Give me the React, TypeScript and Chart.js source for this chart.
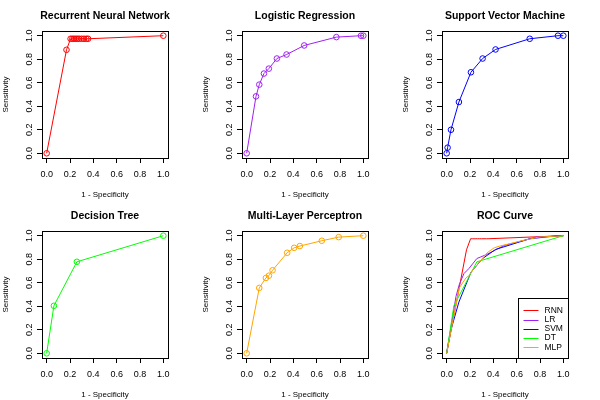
import React, { useEffect, useRef } from "react";
import { Chart, registerables } from "chart.js";

Chart.register(...registerables);

const FONT = "'Liberation Sans', Arial, Helvetica, sans-serif";

// Axis ticks (both axes)
const AXIS_TICKS = [0, 0.2, 0.4, 0.6, 0.8, 1.0];
const AXIS_MIN = -0.04;
const AXIS_MAX = 1.04;
const X_TITLE = "1 - Specificity";
const Y_TITLE = "Sensitivity";

// Recurrent Neural Network
const RNN_X = [0, 0.17, 0.205, 0.22, 0.235, 0.25, 0.265, 0.28, 0.3, 0.32, 0.34, 0.355, 1.0];
const RNN_Y = [0, 0.88, 0.974, 0.974, 0.974, 0.974, 0.974, 0.974, 0.974, 0.974, 0.974, 0.974, 1.0];

// Logistic Regression
const LR_X = [0, 0.08, 0.108, 0.148, 0.19, 0.259, 0.342, 0.493, 0.769, 0.98, 1.0];
const LR_Y = [0, 0.484, 0.584, 0.678, 0.72, 0.806, 0.84, 0.917, 0.988, 1.0, 1.0];

// Support Vector Machine
const SVM_X = [0, 0.008, 0.037, 0.105, 0.208, 0.308, 0.419, 0.712, 0.954, 1.0];
const SVM_Y = [0, 0.048, 0.2, 0.436, 0.689, 0.806, 0.883, 0.974, 1.0, 1.0];

// Decision Tree
const DT_X = [0, 0.062, 0.259, 1.0];
const DT_Y = [0, 0.404, 0.778, 1.0];

// Multi-Layer Perceptron
const MLP_X = [0, 0.108, 0.165, 0.191, 0.222, 0.347, 0.407, 0.456, 0.644, 0.789, 1.0];
const MLP_Y = [0, 0.556, 0.641, 0.66, 0.706, 0.855, 0.897, 0.912, 0.957, 0.988, 1.0];

const TITLES = [
  "Recurrent Neural Network",
  "Logistic Regression",
  "Support Vector Machine",
  "Decision Tree",
  "Multi-Layer Perceptron",
  "ROC Curve",
];
const SHORT_NAMES = ["RNN", "LR", "SVM", "DT", "MLP"];
const COLORS = ["#FF0000", "#A020F0", "#0000FF", "#00FF00", "#FFA500"];

type Series = { name: string; color: string; x: number[]; y: number[] };

const SERIES: Series[] = [
  { name: SHORT_NAMES[0], color: COLORS[0], x: RNN_X, y: RNN_Y },
  { name: SHORT_NAMES[1], color: COLORS[1], x: LR_X, y: LR_Y },
  { name: SHORT_NAMES[2], color: COLORS[2], x: SVM_X, y: SVM_Y },
  { name: SHORT_NAMES[3], color: COLORS[3], x: DT_X, y: DT_Y },
  { name: SHORT_NAMES[4], color: COLORS[4], x: MLP_X, y: MLP_Y },
];

const framePlugin = {
  id: "frame",
  afterDraw(chart: any, _args: any, opts: any) {
    const { ctx, chartArea: a } = chart;
    ctx.save();
    ctx.strokeStyle = "#000";
    ctx.lineWidth = 1;
    const l = Math.round(a.left) + 0.5;
    const t = Math.round(a.top) + 0.5;
    const r = Math.round(a.right) + 0.5;
    const b = Math.round(a.bottom) + 0.5;
    ctx.strokeRect(l, t, r - l, b - t);

    ctx.fillStyle = "#000";
    ctx.font = `bold 10.5px ${FONT}`;
    ctx.textAlign = "center";
    ctx.textBaseline = "middle";
    ctx.fillText(opts.title, (a.left + a.right) / 2, 16.5);

    if (opts.legend) {
      const dsets = chart.data.datasets;
      const bw = 50;
      const bh = 60;
      const bx = r - bw;
      const by = b - bh;
      ctx.fillStyle = "#fff";
      ctx.fillRect(bx, by, bw, bh);
      ctx.strokeStyle = "#000";
      ctx.strokeRect(bx, by, bw, bh);
      ctx.font = `8.5px ${FONT}`;
      ctx.textAlign = "left";
      ctx.textBaseline = "middle";
      dsets.forEach((d: any, i: number) => {
        const yy = by + 11.7 + i * 9.3;
        ctx.strokeStyle = d.borderColor;
        ctx.lineWidth = 1;
        ctx.beginPath();
        ctx.moveTo(bx + 5, Math.round(yy) + 0.5);
        ctx.lineTo(bx + 20, Math.round(yy) + 0.5);
        ctx.stroke();
        ctx.fillStyle = "#000";
        ctx.fillText(d.label, bx + 26, yy);
      });
    }
    ctx.restore();
  },
};

function fmt(v: any) {
  return Number(v).toFixed(1);
}

function Panel({ title, series, points, legend, left, top }: { title: string; series: Series[]; points: boolean; legend: boolean; left: number; top: number }) {
  const ref = useRef<HTMLCanvasElement | null>(null);
  useEffect(() => {
    if (!ref.current) return;
    const datasets = series.map((s, i) => ({
      label: s.name,
      data: s.x.map((x, j) => ({ x, y: s.y[j] })),
      showLine: true,
      borderColor: s.color,
      borderWidth: 1,
      backgroundColor: "rgba(0,0,0,0)",
      pointRadius: points ? 2.8 : 0,
      pointBorderColor: s.color,
      pointBackgroundColor: "rgba(0,0,0,0)",
      pointBorderWidth: 1,
      tension: 0,
      order: series.length - i,
    }));
    const tickSet = (s: any) => {
      s.ticks = AXIS_TICKS.map((v) => ({ value: v }));
    };
    const chart = new Chart(ref.current, {
      type: "scatter",
      data: { datasets },
      plugins: [framePlugin],
      options: {
        animation: false,
        responsive: false,
        devicePixelRatio: 1,
        layout: { padding: { top: 31, right: 32, left: 0, bottom: 0 } },
        events: [],
        plugins: {
          legend: { display: false },
          tooltip: { enabled: false },
          title: { display: false },
          frame: { title, legend },
        } as any,
        scales: {
          x: {
            type: "linear",
            min: AXIS_MIN,
            max: AXIS_MAX,
            afterBuildTicks: tickSet,
            afterFit: (s: any) => {
              s.height = 42;
            },
            ticks: {
              callback: fmt,
              color: "#000",
              font: { size: 9, family: FONT },
              padding: 6,
              maxRotation: 0,
              minRotation: 0,
              autoSkip: false,
            },
            grid: { display: true, drawOnChartArea: false, drawTicks: true, tickLength: 5, color: "#000", lineWidth: 1 },
            border: { display: false },
            title: { display: true, text: X_TITLE, color: "#000", font: { size: 8, family: FONT }, padding: { top: 0, bottom: 0 } },
          },
          y: {
            type: "linear",
            position: "left",
            min: AXIS_MIN,
            max: AXIS_MAX,
            afterBuildTicks: tickSet,
            afterFit: (s: any) => {
              s.width = 42;
            },
            ticks: {
              callback: fmt,
              color: "#000",
              font: { size: 9, family: FONT },
              padding: 1,
              minRotation: 90,
              maxRotation: 90,
              crossAlign: "center",
              autoSkip: false,
            },
            grid: { display: true, drawOnChartArea: false, drawTicks: true, tickLength: 5, color: "#000", lineWidth: 1 },
            border: { display: false },
            title: { display: true, text: Y_TITLE, color: "#000", font: { size: 8, family: FONT }, padding: { top: 1, bottom: 0 } },
          },
        },
      } as any,
    });
    return () => chart.destroy();
  }, [title, series, points, legend]);
  return (
    <canvas
      ref={ref}
      width={200}
      height={200}
      style={{ position: "absolute", left, top, width: 200, height: 200, display: "block" }}
    />
  );
}

export default function App() {
  return (
    <div style={{ position: "absolute", left: 0, top: 0, width: 600, height: 400, background: "#fff" }}>
      {SERIES.map((s, i) => (
        <Panel
          key={i}
          title={TITLES[i]}
          series={[s]}
          points={true}
          legend={false}
          left={(i % 3) * 200}
          top={Math.floor(i / 3) * 200}
        />
      ))}
      <Panel title={TITLES[5]} series={SERIES} points={false} legend={true} left={400} top={200} />
    </div>
  );
}
